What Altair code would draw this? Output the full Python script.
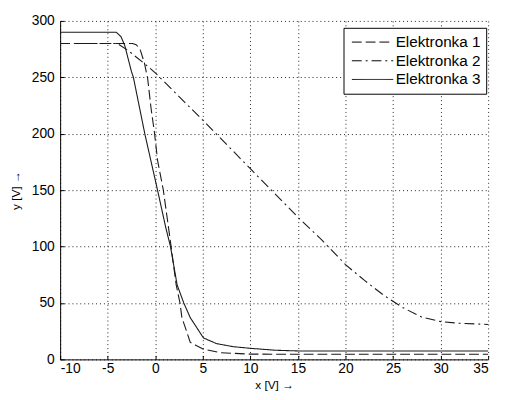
import altair as alt
import pandas as pd

# Series data
x1 = [-10, -2.4, -2.0, -1.6, -1.15, -0.8, -0.45, -0.1, 0.25, 0.85, 1.65, 2.2, 2.6, 2.8, 3.17, 3.68, 4.2, 5.07, 6.8, 9.9, 15, 35]
y1 = [280, 280, 279, 275, 263, 249, 223, 202, 176, 150, 101, 66, 50, 37, 28, 15, 12.8, 9, 6, 4.7, 4.5, 4.5]

x2 = [-10, -4, -2.9, -1.1, 0, 5, 10, 15, 17.5, 20, 22, 24, 26, 28, 30, 32, 35]
y2 = [280, 280, 274, 262, 254, 212, 169, 126, 106, 84, 70, 57, 46, 37.5, 33.5, 32, 31]

x3 = [-10, -4.1, -3.6, -3.2, -2.5, -2.3, -1.1, 0.24, 1.1, 1.6, 2.3, 3.0, 3.68, 5.07, 6.44, 8.17, 9.89, 12.65, 15, 35]
y3 = [290, 290, 286, 278, 255, 250, 200, 150, 117, 100, 66, 50, 37, 19, 14, 11.3, 9.9, 8.1, 7.5, 7.5]

names = ["Elektronka 1", "Elektronka 2", "Elektronka 3"]
x_ticks = [-10, -5, 0, 5, 10, 15, 20, 25, 30, 35]
y_ticks = [0, 50, 100, 150, 200, 250, 300]

rows = []
for name, xs, ys in zip(names, [x1, x2, x3], [y1, y2, y3]):
    for i, (a, b) in enumerate(zip(xs, ys)):
        rows.append({"series": name, "x": a, "y": b, "order": i})
df = pd.DataFrame(rows)

W, H = 435, 344
FONT = "Liberation Sans"

xscale = alt.Scale(domain=[-10, 35], nice=False, zero=False)
yscale = alt.Scale(domain=[0, 300], nice=False, zero=False)

lines = alt.Chart(df).mark_line(strokeWidth=1.1, color="#1a1a1a").encode(
    x=alt.X("x:Q", scale=xscale,
            axis=alt.Axis(values=x_ticks, title="x [V] \u2192", ticks=False,
                          labelExpr="datum.value",
                          grid=True, gridDash=[1, 3], gridColor="#222222",
                          gridOpacity=1, domainColor="black",
                          labelPadding=2, titlePadding=5)),
    y=alt.Y("y:Q", scale=yscale,
            axis=alt.Axis(values=y_ticks, title="y [V] \u2192", ticks=False,
                          labelExpr="datum.value",
                          grid=True, gridDash=[1, 3], gridColor="#222222",
                          gridOpacity=1, domainColor="black",
                          labelPadding=6, titlePadding=9)),
    strokeDash=alt.StrokeDash(
        "series:N",
        scale=alt.Scale(domain=names, range=[[10, 4], [10, 4, 2, 4], [1, 0]]),
        legend=alt.Legend(title=None, orient="none", legendX=288, legendY=7,
                          symbolType="stroke", symbolSize=1764, clipHeight=19,
                          symbolStrokeWidth=1, symbolStrokeColor="black",
                          symbolOffset=3,
                          labelFontSize=15.5, labelFont=FONT, labelColor="black",
                          fillColor="white", strokeColor="black", padding=5,
                          rowPadding=0, labelOffset=2, cornerRadius=0)),
    order="order:Q",
)

# inward tick marks drawn by axes placed on the opposite side
ticks = alt.Chart(df).mark_point(opacity=0).encode(
    x=alt.X("x:Q", scale=xscale,
            axis=alt.Axis(orient="top", offset=-H, values=x_ticks, labels=False,
                          domain=False, grid=False, ticks=True, tickSize=4,
                          tickColor="black", title=None)),
    y=alt.Y("y:Q", scale=yscale,
            axis=alt.Axis(orient="right", offset=-W, values=y_ticks, labels=False,
                          domain=False, grid=False, ticks=True, tickSize=4,
                          tickColor="black", title=None)),
)

chart = alt.layer(lines, ticks).resolve_axis(x="independent", y="independent").properties(
    width=W, height=H,
    background="white",
    autosize=alt.AutoSizeParams(type="none"),
    padding={"left": 53, "top": 10, "right": 10, "bottom": 30},
).configure_view(stroke=None).configure_axis(
    labelFont=FONT, labelFontSize=14, labelColor="black",
    titleFont=FONT, titleFontSize=12, titleFontWeight="normal", titleColor="black",
)

chart.save("out.html", embed_options={"renderer": "svg", "actions": False})
